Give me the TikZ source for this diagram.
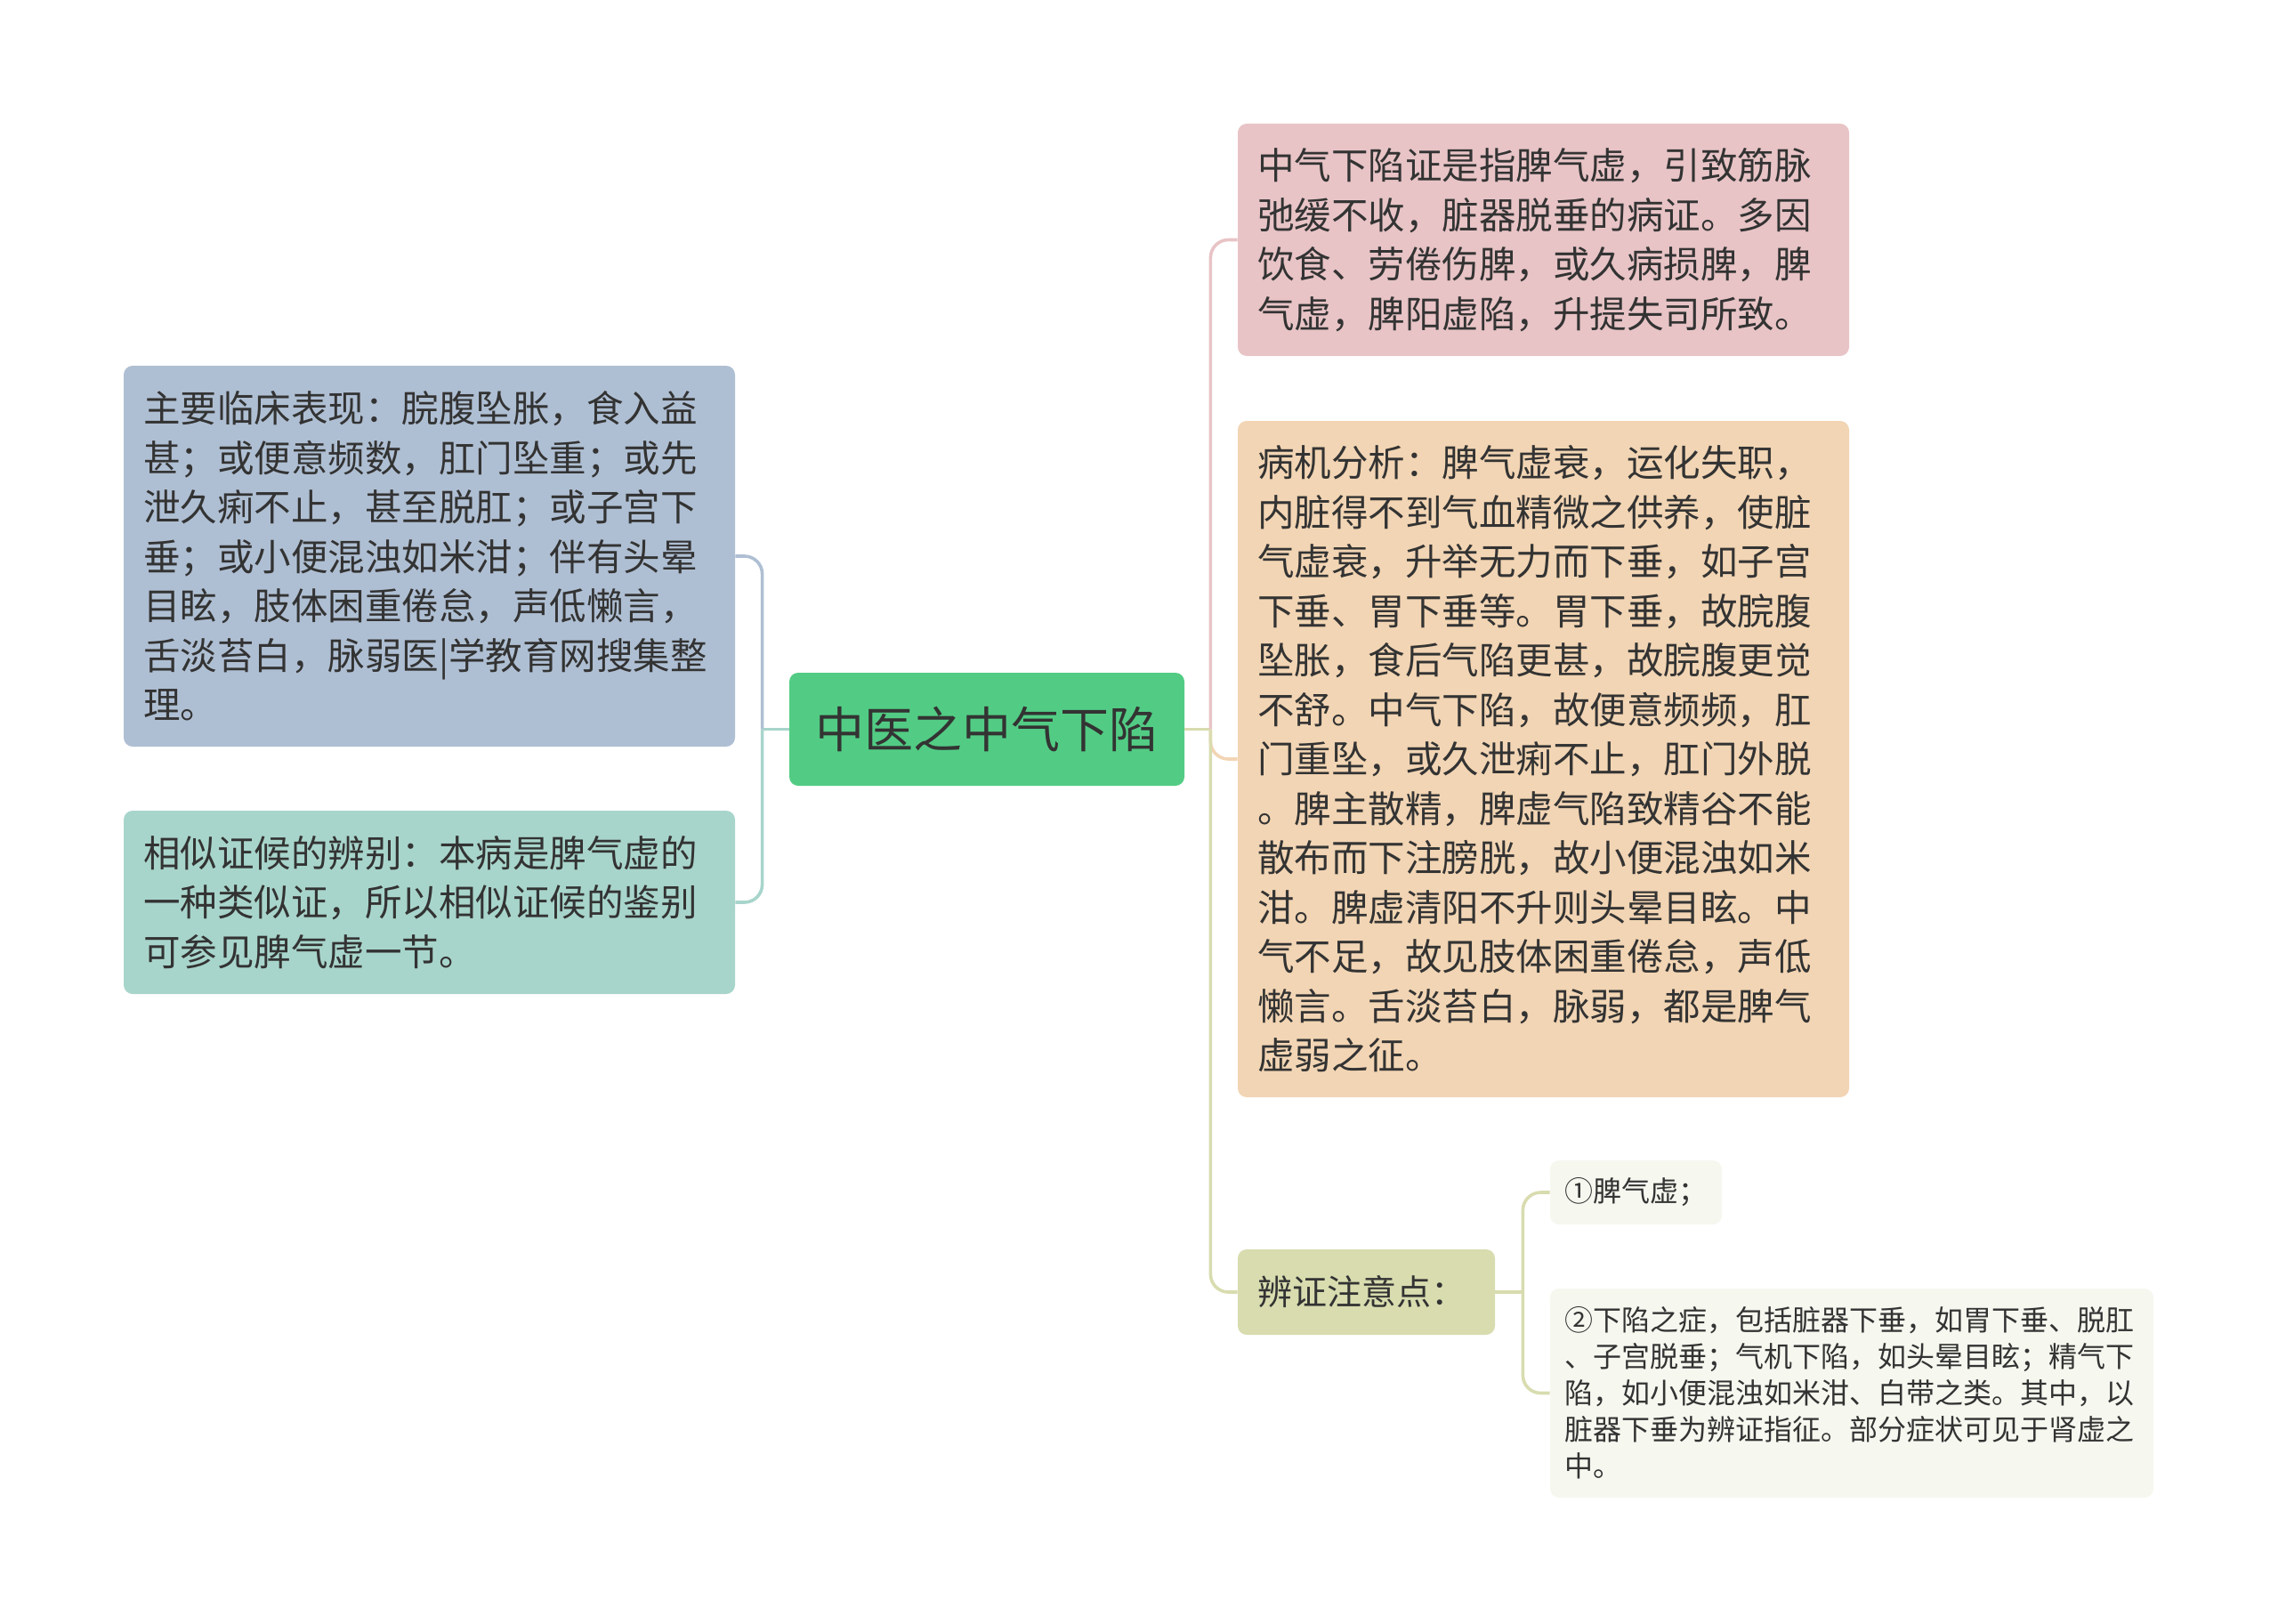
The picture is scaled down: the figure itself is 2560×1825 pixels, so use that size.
\documentclass[tikz,border=0pt]{standalone}
\usepackage{fontspec}
\setmainfont{Noto Sans CJK SC}
\definecolor{txt}{HTML}{333333}
\definecolor{cRoot}{HTML}{52CC84}
\definecolor{cBlue}{HTML}{AFBFD3}
\definecolor{cTeal}{HTML}{A8D5CB}
\definecolor{cPink}{HTML}{E8C4C6}
\definecolor{cOrange}{HTML}{F2D5B4}
\definecolor{cOlive}{HTML}{D8DCAF}
\definecolor{cPale}{HTML}{F6F7EF}
\begin{document}
\begin{tikzpicture}[
  x=0.5pt, y=-0.5pt,
  box/.style={rounded corners=5pt, inner xsep=11pt, inner ysep=0pt,
              align=left, text=txt,
              font=\fontsize{20.75pt}{27.75pt}\selectfont},
  small/.style={box, fill=cPale, inner xsep=8pt,
                font=\fontsize{16pt}{20.5pt}\selectfont},
  link/.style={line width=1.8pt, rounded corners=10pt}
]
\useasboundingbox (0,0) rectangle (2560,1825);

% Nodo principale
\node[box, fill=cRoot, align=center, minimum width=222pt, minimum height=63.5pt,
      font=\fontsize{27.5pt}{33pt}\selectfont, text=black!80] (root) at (1109,819.5)
  {中医之中气下陷};

% ====================== SINISTRA ======================
\node[box, fill=cBlue, text width=321.5pt, minimum height=214pt] (biaoxian) at (482.5,625)
  {主要临床表现：脘腹坠胀，食入益\\甚；或便意频数，肛门坠重；或先\\泄久痢不止，甚至脱肛；或子宫下\\垂；或小便混浊如米泔；伴有头晕\\目眩，肢体困重倦怠，声低懒言，\\舌淡苔白，脉弱医|学教育网搜集整\\理。};
\node[box, fill=cTeal, text width=321.5pt, minimum height=103pt] (bianbie) at (482.5,1014)
  {相似证候的辨别：本病是脾气虚的\\一种类似证，所以相似证候的鉴别\\可参见脾气虚一节。};

% ====================== DESTRA ======================
\node[box, fill=cPink, text width=321.5pt, minimum height=130.5pt] (dingyi) at (1734.5,269.5)
  {中气下陷证是指脾气虚，引致筋脉\\弛缓不收，脏器脱垂的病证。多因\\饮食、劳倦伤脾，或久病损脾，脾\\气虚，脾阳虚陷，升提失司所致。};
\node[box, fill=cOrange, text width=321.5pt, minimum height=380pt] (bingji) at (1734.5,853)
  {病机分析：脾气虚衰，运化失职，\\内脏得不到气血精微之供养，使脏\\气虚衰，升举无力而下垂，如子宫\\下垂、胃下垂等。胃下垂，故脘腹\\坠胀，食后气陷更甚，故脘腹更觉\\不舒。中气下陷，故便意频频，肛\\门重坠，或久泄痢不止，肛门外脱\\。脾主散精，脾虚气陷致精谷不能\\散布而下注膀胱，故小便混浊如米\\泔。脾虚清阳不升则头晕目眩。中\\气不足，故见肢体困重倦怠，声低\\懒言。舌淡苔白，脉弱，都是脾气\\虚弱之征。};
\node[box, fill=cOlive, text width=122.5pt, minimum height=48pt,
      font=\fontsize{19.5pt}{24pt}\selectfont] (zhuyi) at (1535.5,1452)
  {辨证注意点：};

% ====================== ZHUYI ======================
\node[small, text width=80.5pt, minimum height=36pt] (zhuyiA) at (1838.5,1340)
  {①脾气虚；};
\node[small, text width=323pt, minimum height=117.5pt] (zhuyiB) at (2081,1565.5)
  {②下陷之症，包括脏器下垂，如胃下垂、脱肛\\、子宫脱垂；气机下陷，如头晕目眩；精气下\\陷，如小便混浊如米泔、白带之类。其中，以\\脏器下垂为辨证指征。部分症状可见于肾虚之\\中。};

% collegamenti
\coordinate (lj) at ([xshift=-15pt]root.west);
\coordinate (rj) at ([xshift=14.5pt]root.east);
\coordinate (zj) at ([xshift=15.5pt]zhuyi.east);
\draw[link, draw=cTeal] (root.west) -- (lj);
\draw[link, draw=cBlue] (lj) |- (biaoxian.east);
\draw[link, draw=cTeal] (lj) |- (bianbie.east);
\draw[link, draw=cOlive] (root.east) -- (rj);
\draw[link, draw=cPink] (rj) |- (dingyi.west);
\draw[link, draw=cOrange] (rj) |- (bingji.west);
\draw[link, draw=cOlive] (rj) |- (zhuyi.west);
\draw[link, draw=cOlive] (zhuyi.east) -- (zj);
\draw[link, draw=cOlive] (zj) |- (zhuyiA.west);
\draw[link, draw=cOlive] (zj) |- (zhuyiB.west);

\end{tikzpicture}
\end{document}
